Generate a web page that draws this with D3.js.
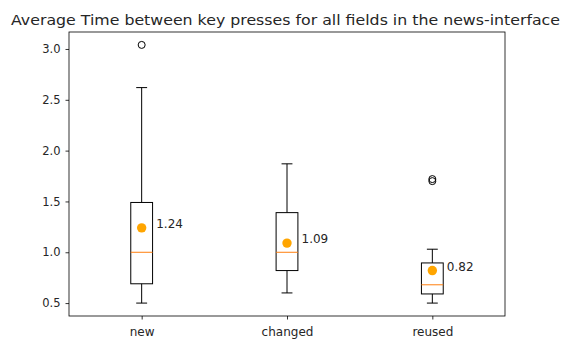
<!DOCTYPE html>
<html>
<head>
<meta charset="utf-8">
<script src="https://cdn.jsdelivr.net/npm/d3@7"></script>
<style>
  body { margin: 0; background: #fff; }
  text { font-family: "DejaVu Sans", sans-serif; fill: #262626; }
</style>
</head>
<body>
<div id="chart"></div>
<script>
// box stats
var categories = ["new", "changed", "reused"];
var q1 = [0.69, 0.82, 0.59];
var medians = [1.0, 1.0, 0.68];
var q3 = [1.49, 1.39, 0.895];
var whiskLow = [0.50, 0.60, 0.50];
var whiskHigh = [2.62, 1.87, 1.03];
var outliers = [[3.04], [], [1.70, 1.72]];
var means = [1.24, 1.09, 0.82];
var yTicks = [0.5, 1.0, 1.5, 2.0, 2.5, 3.0];

var W = 566, H = 343;
var margin = { top: 32, right: 61, bottom: 27, left: 69 },
    width = W - margin.left - margin.right,
    height = H - margin.top - margin.bottom;

var svg = d3.select("#chart").append("svg")
    .attr("width", W)
    .attr("height", H);

var g = svg.append("g")
    .attr("transform", "translate(" + margin.left + "," + margin.top + ")");

var x = d3.scaleLinear().domain([0.5, 3.5]).range([0, width]);
var y = d3.scaleLinear().domain([0.373, 3.167]).range([height, 0]);

var boxW = x(1.15) - x(1);
var capW = boxW / 2;

var yAxis = d3.axisLeft(y).tickValues(yTicks).tickSize(3.5).tickPadding(5)
    .tickFormat(d3.format(".1f"));
var xAxis = d3.axisBottom(x).tickValues([1, 2, 3]).tickSize(3.5).tickPadding(7.5)
    .tickFormat(function(d) { return categories[d - 1]; });

var gy = g.append("g").call(yAxis);
var gx = g.append("g").attr("transform", "translate(0," + height + ")").call(xAxis);
[gx, gy].forEach(function(a) {
  a.select(".domain").remove();
  a.selectAll("line").attr("stroke", "#000").attr("stroke-width", 0.8);
  a.selectAll("text").attr("fill", "#262626");
});
gy.selectAll("text").style("font-size", "11.5px");
gx.selectAll("text").style("font-size", "12px");

// frame
g.append("rect")
    .attr("width", width).attr("height", height)
    .attr("fill", "none").attr("stroke", "#000").attr("stroke-width", 0.8);

var idx = d3.range(categories.length);

var box = g.selectAll(".box").data(idx).enter().append("g").attr("class", "box");

// whiskers
box.append("line")
    .attr("x1", function(i) { return x(i + 1); }).attr("x2", function(i) { return x(i + 1); })
    .attr("y1", function(i) { return y(q3[i]); }).attr("y2", function(i) { return y(whiskHigh[i]); })
    .attr("stroke", "#000");
box.append("line")
    .attr("x1", function(i) { return x(i + 1); }).attr("x2", function(i) { return x(i + 1); })
    .attr("y1", function(i) { return y(q1[i]); }).attr("y2", function(i) { return y(whiskLow[i]); })
    .attr("stroke", "#000");
// caps
box.append("line")
    .attr("x1", function(i) { return x(i + 1) - capW / 2; }).attr("x2", function(i) { return x(i + 1) + capW / 2; })
    .attr("y1", function(i) { return y(whiskHigh[i]); }).attr("y2", function(i) { return y(whiskHigh[i]); })
    .attr("stroke", "#000");
box.append("line")
    .attr("x1", function(i) { return x(i + 1) - capW / 2; }).attr("x2", function(i) { return x(i + 1) + capW / 2; })
    .attr("y1", function(i) { return y(whiskLow[i]); }).attr("y2", function(i) { return y(whiskLow[i]); })
    .attr("stroke", "#000");
// box
box.append("rect")
    .attr("x", function(i) { return x(i + 1) - boxW / 2; })
    .attr("width", boxW)
    .attr("y", function(i) { return y(q3[i]); })
    .attr("height", function(i) { return y(q1[i]) - y(q3[i]); })
    .attr("fill", "none").attr("stroke", "#000");
// median
box.append("line")
    .attr("x1", function(i) { return x(i + 1) - boxW / 2; }).attr("x2", function(i) { return x(i + 1) + boxW / 2; })
    .attr("y1", function(i) { return y(medians[i]); }).attr("y2", function(i) { return y(medians[i]); })
    .attr("stroke", "#ff7f0e");

// outliers
box.each(function(i) {
  d3.select(this).selectAll(".flier").data(outliers[i]).enter().append("circle")
      .attr("class", "flier")
      .attr("cx", x(i + 1)).attr("cy", function(v) { return y(v); })
      .attr("r", 3.5).attr("fill", "none").attr("stroke", "#000");
});

// means
box.append("circle")
    .attr("cx", function(i) { return x(i + 1); })
    .attr("cy", function(i) { return y(means[i]); })
    .attr("r", 4.7).attr("fill", "orange");
box.append("text")
    .attr("x", function(i) { return x(i + 1.1); })
    .attr("y", function(i) { return y(means[i]); })
    .style("font-size", "12px")
    .text(function(i) { return means[i].toFixed(2); });

// title
svg.append("text")
    .attr("x", 11)
    .attr("y", 24.5)
    .attr("textLength", 549)
    .attr("lengthAdjust", "spacingAndGlyphs")
    .style("font-size", "14.5px")
    .text("Average Time between key presses for all fields in the news-interface");
</script>
</body>
</html>
